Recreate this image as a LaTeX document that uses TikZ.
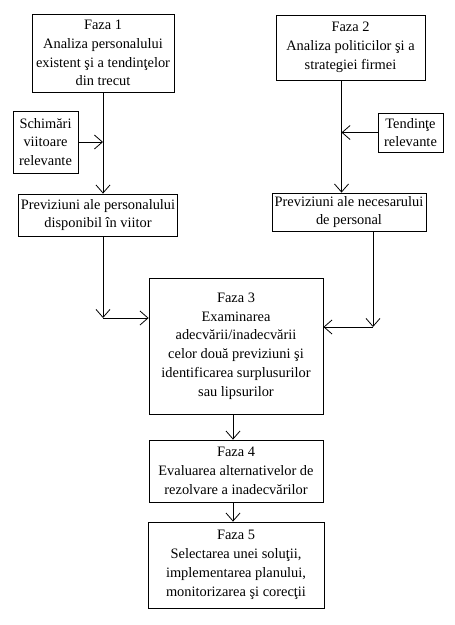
\documentclass[tikz,border=0pt]{standalone}
\usepackage{fontspec}
\setmainfont{Liberation Serif}
\usepackage{tikz}
\usetikzlibrary{arrows.meta,positioning}

\begin{document}
\begin{tikzpicture}[
    x=1pt, y=-1pt,
    font=\fontsize{14.4}{18.8}\selectfont,
    phase/.style={rectangle, draw, thick, align=center, inner sep=2pt},
    arrow/.style={thick, -{Straight Barb[length=8pt,width=14pt]}}
]
\useasboundingbox (0,0) rectangle (455,625);

% Left branch
\node[phase, minimum width=142pt, minimum height=78pt] (faza1) at (103,53)
    {Faza 1\\Analiza personalului\\existent şi a tendinţelor\\din trecut};
\node[phase, minimum width=65pt, minimum height=62pt] (schimbari) at (45.5,142)
    {Schimări\\viitoare\\relevante};
\node[phase, minimum width=158pt, minimum height=42pt] (prevpers) at (98,215)
    {Previziuni ale personalului\\disponibil în viitor};

% Right branch
\node[phase, minimum width=149pt, minimum height=65pt] (faza2) at (350.5,47.5)
    {Faza 2\\Analiza politicilor şi a\\strategiei firmei};
\node[phase, minimum width=65pt, minimum height=39pt] (tendinte) at (410.5,132.5)
    {Tendinţe\\relevante};
\node[phase, minimum width=154pt, minimum height=38pt] (prevnec) at (349,212)
    {Previziuni ale necesarului\\de personal};

% Central column
\node[phase, minimum width=174pt, minimum height=136pt] (faza3) at (236,346)
    {Faza 3\\Examinarea\\adecvării/inadecvării\\celor două previziuni şi\\identificarea surplusurilor\\sau lipsurilor};
\node[phase, minimum width=174pt, minimum height=62pt] (faza4) at (236,471)
    {Faza 4\\Evaluarea alternativelor de\\rezolvare a inadecvărilor};
\node[phase, minimum width=176pt, minimum height=86pt] (faza5) at (236,565)
    {Faza 5\\Selectarea unei soluţii,\\implementarea planului,\\monitorizarea şi corecţii};

% Connectors
\coordinate (top1) at (faza1.south);
\coordinate (top2) at ([xshift=-9pt]faza2.south);
\coordinate (low1) at ([xshift=5pt]prevpers.south);
\coordinate (low2) at ([xshift=24pt]prevnec.south);
\coordinate (turn1) at (low1 |- 0,318);
\coordinate (turn2) at (low2 |- 0,327);

\draw[arrow] (top1) -- (top1 |- prevpers.north);
\draw[arrow] (schimbari.east) -- (schimbari.east -| top1);
\draw[arrow] (top2) -- (top2 |- prevnec.north);
\draw[arrow] (tendinte.west) -- (tendinte.west -| top2);

\draw[arrow] (low1) -- (turn1);
\draw[arrow] (turn1) -- (turn1 -| faza3.west);
\draw[arrow] (low2) -- (turn2);
\draw[arrow] (turn2) -- (turn2 -| faza3.east);

\draw[arrow] ([xshift=-3pt]faza3.south) -- ([xshift=-3pt]faza4.north);
\draw[arrow] ([xshift=-3pt]faza4.south) -- ([xshift=-3pt]faza5.north);

\end{tikzpicture}
\end{document}
